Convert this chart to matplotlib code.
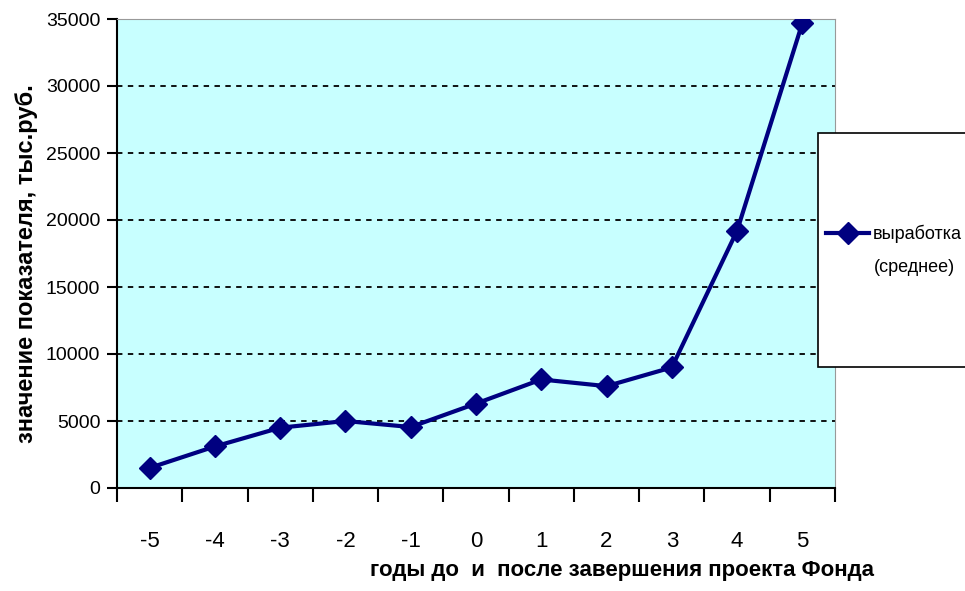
import matplotlib
matplotlib.use("Agg")
import matplotlib.pyplot as plt
import numpy as np
from matplotlib.patches import Rectangle

plt.rcParams["font.family"] = ["Liberation Sans", "DejaVu Sans"]

years = ["-5", "-4", "-3", "-2", "-1", "0", "1", "2", "3", "4", "5"]
output_avg = [1500, 3100, 4500, 5000, 4550, 6300, 8100, 7600, 9000, 19200, 34700]
series_label = "выработка"
series_note = "(среднее)"
y_ticks = [0, 5000, 10000, 15000, 20000, 25000, 30000, 35000]

navy = "#000080"

fig = plt.figure(figsize=(9.65, 5.91), dpi=100)
ax = fig.add_axes([117/965, 1-488/591, (835-117)/965, (488-19)/591])
ax.set_facecolor("#c8ffff")

x = np.arange(len(years))
ax.plot(x, output_avg, color=navy, lw=3, marker="D", ms=11,
        mec=navy, mfc=navy, label=series_label, zorder=3)

ax.set_xlim(-0.5, len(years)-0.5)
ax.set_ylim(0, 35000)
ax.set_yticks(y_ticks)
ax.set_yticklabels([str(v) for v in y_ticks])
for v in y_ticks[1:-1]:
    ax.axhline(v, color="black", lw=1.3, ls=(0, (3, 3)), zorder=1)

# category boundaries as major ticks, labels at centres
ax.set_xticks(np.arange(len(years)+1)-0.5)
ax.set_xticklabels([])
ax.set_xticks(x, minor=True)
ax.set_xticklabels(years, minor=True, fontsize=16)
ax.tick_params(axis="x", which="major", length=10, width=1.5, direction="out")
ax.tick_params(axis="x", which="minor", length=0, pad=31)
ax.tick_params(axis="y", length=7, width=1.5, direction="out", labelsize=14, pad=5)

ax.spines["left"].set_linewidth(1.5)
ax.spines["bottom"].set_linewidth(1.5)
ax.spines["top"].set_color("#999999")
ax.spines["right"].set_color("#999999")

ax.set_xlabel("годы до  и  после завершения проекта Фонда", fontsize=16,
              fontweight="bold")
ax.xaxis.set_label_coords((622-117)/(835-117), -(560-488)/(488-19))
ax.set_ylabel("значение показателя, тыс.руб.", fontsize=17, fontweight="bold")
ax.yaxis.set_label_coords(-(117-38)/(835-117), (488-264)/(488-19))

# legend box running off the right edge
fig.patches.append(Rectangle((818/965, 1-367/591), 0.3, (367-133)/591,
                             transform=fig.transFigure, facecolor="white",
                             edgecolor="black", lw=1.2, zorder=5))
leg = fig.legend(loc="center left", bbox_to_anchor=(826/965, 1-234/591),
                 frameon=False, fontsize=13, handlelength=2.4,
                 handletextpad=0.2, borderaxespad=0, borderpad=0)
leg.set_zorder(6)
fig.text(874/965, 1-268/591, series_note, fontsize=13, va="center",
         ha="left", zorder=7)

fig.savefig("out.png", dpi=100)
